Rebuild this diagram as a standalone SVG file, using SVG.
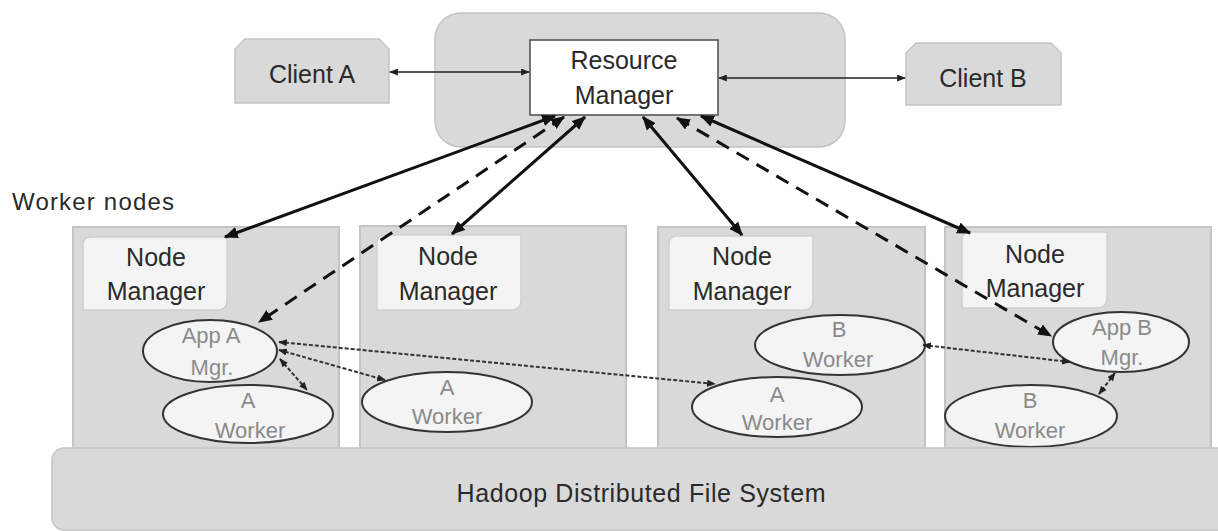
<svg xmlns="http://www.w3.org/2000/svg" width="1218" height="531" viewBox="0 0 1218 531">
<style>
text{font-family:"Liberation Sans",Arial,sans-serif;text-anchor:middle;fill:#2a2a2a}
.big{font-size:25px}
.sm{font-size:22px;fill:#8a8a8a}
.panel{fill:#d9d9d9;stroke:#c4c4c4;stroke-width:2}
.nm{fill:#f4f4f4;stroke:#cfcfcf;stroke-width:1.5}
.ell{fill:#f4f4f4;stroke:#333;stroke-width:2}
.thick{stroke:#111;stroke-width:3;fill:none;marker-start:url(#ah);marker-end:url(#ah)}
.dash{stroke:#111;stroke-width:3;fill:none;stroke-dasharray:14 9;marker-start:url(#ah);marker-end:url(#ah)}
.dot{stroke:#333;stroke-width:2;fill:none;stroke-dasharray:4 2;marker-start:url(#as);marker-end:url(#as)}
.thin{stroke:#222;stroke-width:1.6;fill:none;marker-start:url(#as);marker-end:url(#as)}
</style>
<defs>
<marker id="ah" viewBox="0 0 12 10" refX="11" refY="5" markerWidth="14" markerHeight="12" markerUnits="userSpaceOnUse" orient="auto-start-reverse"><path d="M0,0 L12,5 L0,10 z" fill="#111"/></marker>
<marker id="as" viewBox="0 0 10 8" refX="9" refY="4" markerWidth="9" markerHeight="7" markerUnits="userSpaceOnUse" orient="auto-start-reverse"><path d="M0,0 L10,4 L0,8 z" fill="#222"/></marker>
</defs>
<rect width="1218" height="531" fill="#fff"/>

<g id="rm-container"><rect x="435" y="13" width="410" height="134" rx="26" fill="#d9d9d9" stroke="#c4c4c4" stroke-width="1.5"/></g>
<g id="resource-manager"><rect x="530" y="40" width="188" height="75" fill="#fff" stroke="#555" stroke-width="1.6"/>
<text class="big" x="624" y="69">Resource</text><text class="big" x="624" y="104">Manager</text></g>
<g id="client-a"><path d="M235,103 V49 L245,39 H379 L389,49 V103 Z" fill="#d9d9d9" stroke="#c4c4c4" stroke-width="1.5"/><text class="big" x="312" y="83">Client A</text></g>
<g id="client-b"><path d="M906,105 V53 L916,43 H1051 L1061,53 V105 Z" fill="#d9d9d9" stroke="#c4c4c4" stroke-width="1.5"/><text class="big" x="983" y="87">Client B</text></g>

<text x="12" y="210" textLength="162" style="font-size:24px;text-anchor:start">Worker nodes</text>

<g id="worker-1"><rect class="panel" x="73" y="227" width="266" height="222"/>
<g id="nm-1"><path class="nm" d="M91,237 H227 V300 Q227,310 217,310 H83 V245 Q83,237 91,237 Z"/><text class="big" x="156" y="266">Node</text><text class="big" x="156" y="300">Manager</text></g>
<g id="app-a-mgr"><ellipse class="ell" cx="210" cy="351" rx="67" ry="31"/><text class="sm" x="211" y="343">App A</text><text class="sm" x="212" y="375">Mgr.</text></g>
<g id="a-worker-1"><ellipse class="ell" cx="248" cy="414" rx="85" ry="29"/><text class="sm" x="248" y="408">A</text><text class="sm" x="250" y="438">Worker</text></g>
</g>
<g id="worker-2"><rect class="panel" x="360" y="226" width="266" height="223"/>
<g id="nm-2"><path class="nm" d="M385,235 H521 V300 Q521,310 511,310 H377 V243 Q377,235 385,235 Z"/><text class="big" x="448" y="265">Node</text><text class="big" x="448" y="300">Manager</text></g>
<g id="a-worker-2"><ellipse class="ell" cx="447" cy="402" rx="85" ry="30"/><text class="sm" x="447" y="395">A</text><text class="sm" x="447" y="424">Worker</text></g>
</g>
<g id="worker-3"><rect class="panel" x="658" y="227" width="267" height="222"/>
<g id="nm-3"><path class="nm" d="M677,236 H813 V300 Q813,310 803,310 H669 V244 Q669,236 677,236 Z"/><text class="big" x="742" y="265">Node</text><text class="big" x="742" y="300">Manager</text></g>
<g id="b-worker-3"><ellipse class="ell" cx="840" cy="345" rx="85" ry="30"/><text class="sm" x="839" y="337">B</text><text class="sm" x="838" y="367">Worker</text></g>
<g id="a-worker-3"><ellipse class="ell" cx="777" cy="407" rx="85" ry="30"/><text class="sm" x="777" y="402">A</text><text class="sm" x="777" y="430">Worker</text></g>
</g>
<g id="worker-4"><rect class="panel" x="945" y="227" width="266" height="222"/>
<g id="nm-4"><path class="nm" d="M970,232 H1107 V298 Q1107,308 1097,308 H962 V240 Q962,232 970,232 Z"/><text class="big" x="1035" y="263">Node</text><text class="big" x="1035" y="297">Manager</text></g>
<g id="app-b-mgr"><ellipse class="ell" cx="1121" cy="342" rx="68" ry="30"/><text class="sm" x="1122" y="335">App B</text><text class="sm" x="1122" y="365">Mgr.</text></g>
<g id="b-worker-4"><ellipse class="ell" cx="1031" cy="416" rx="86" ry="31"/><text class="sm" x="1030" y="408">B</text><text class="sm" x="1030" y="438">Worker</text></g>
</g>

<g id="hdfs"><rect x="52" y="448" width="1190" height="82" rx="12" fill="#d9d9d9" stroke="#c4c4c4" stroke-width="1.5"/><text class="big" x="641" y="502" textLength="369">Hadoop Distributed File System</text></g>

<g id="connectors">
<line class="thin" x1="390" y1="72" x2="529" y2="72"/>
<line class="thin" x1="719" y1="78" x2="905" y2="78"/>
<line class="thick" x1="555" y1="116" x2="225" y2="237"/>
<line class="dash" x1="564" y1="117" x2="259" y2="322"/>
<line class="thick" x1="585" y1="117" x2="452" y2="234"/>
<line class="thick" x1="643" y1="117" x2="742" y2="235"/>
<line class="dash" x1="677" y1="118" x2="1051" y2="336"/>
<line class="thick" x1="701" y1="116" x2="970" y2="233"/>
<line class="dot" x1="279" y1="342" x2="715" y2="384"/>
<line class="dot" x1="279" y1="350" x2="385" y2="380"/>
<line class="dot" x1="280" y1="359" x2="307" y2="390"/>
<line class="dot" x1="923" y1="345" x2="1070" y2="362"/>
<line class="dot" x1="1115" y1="373" x2="1099" y2="394"/>
</g>
</svg>
